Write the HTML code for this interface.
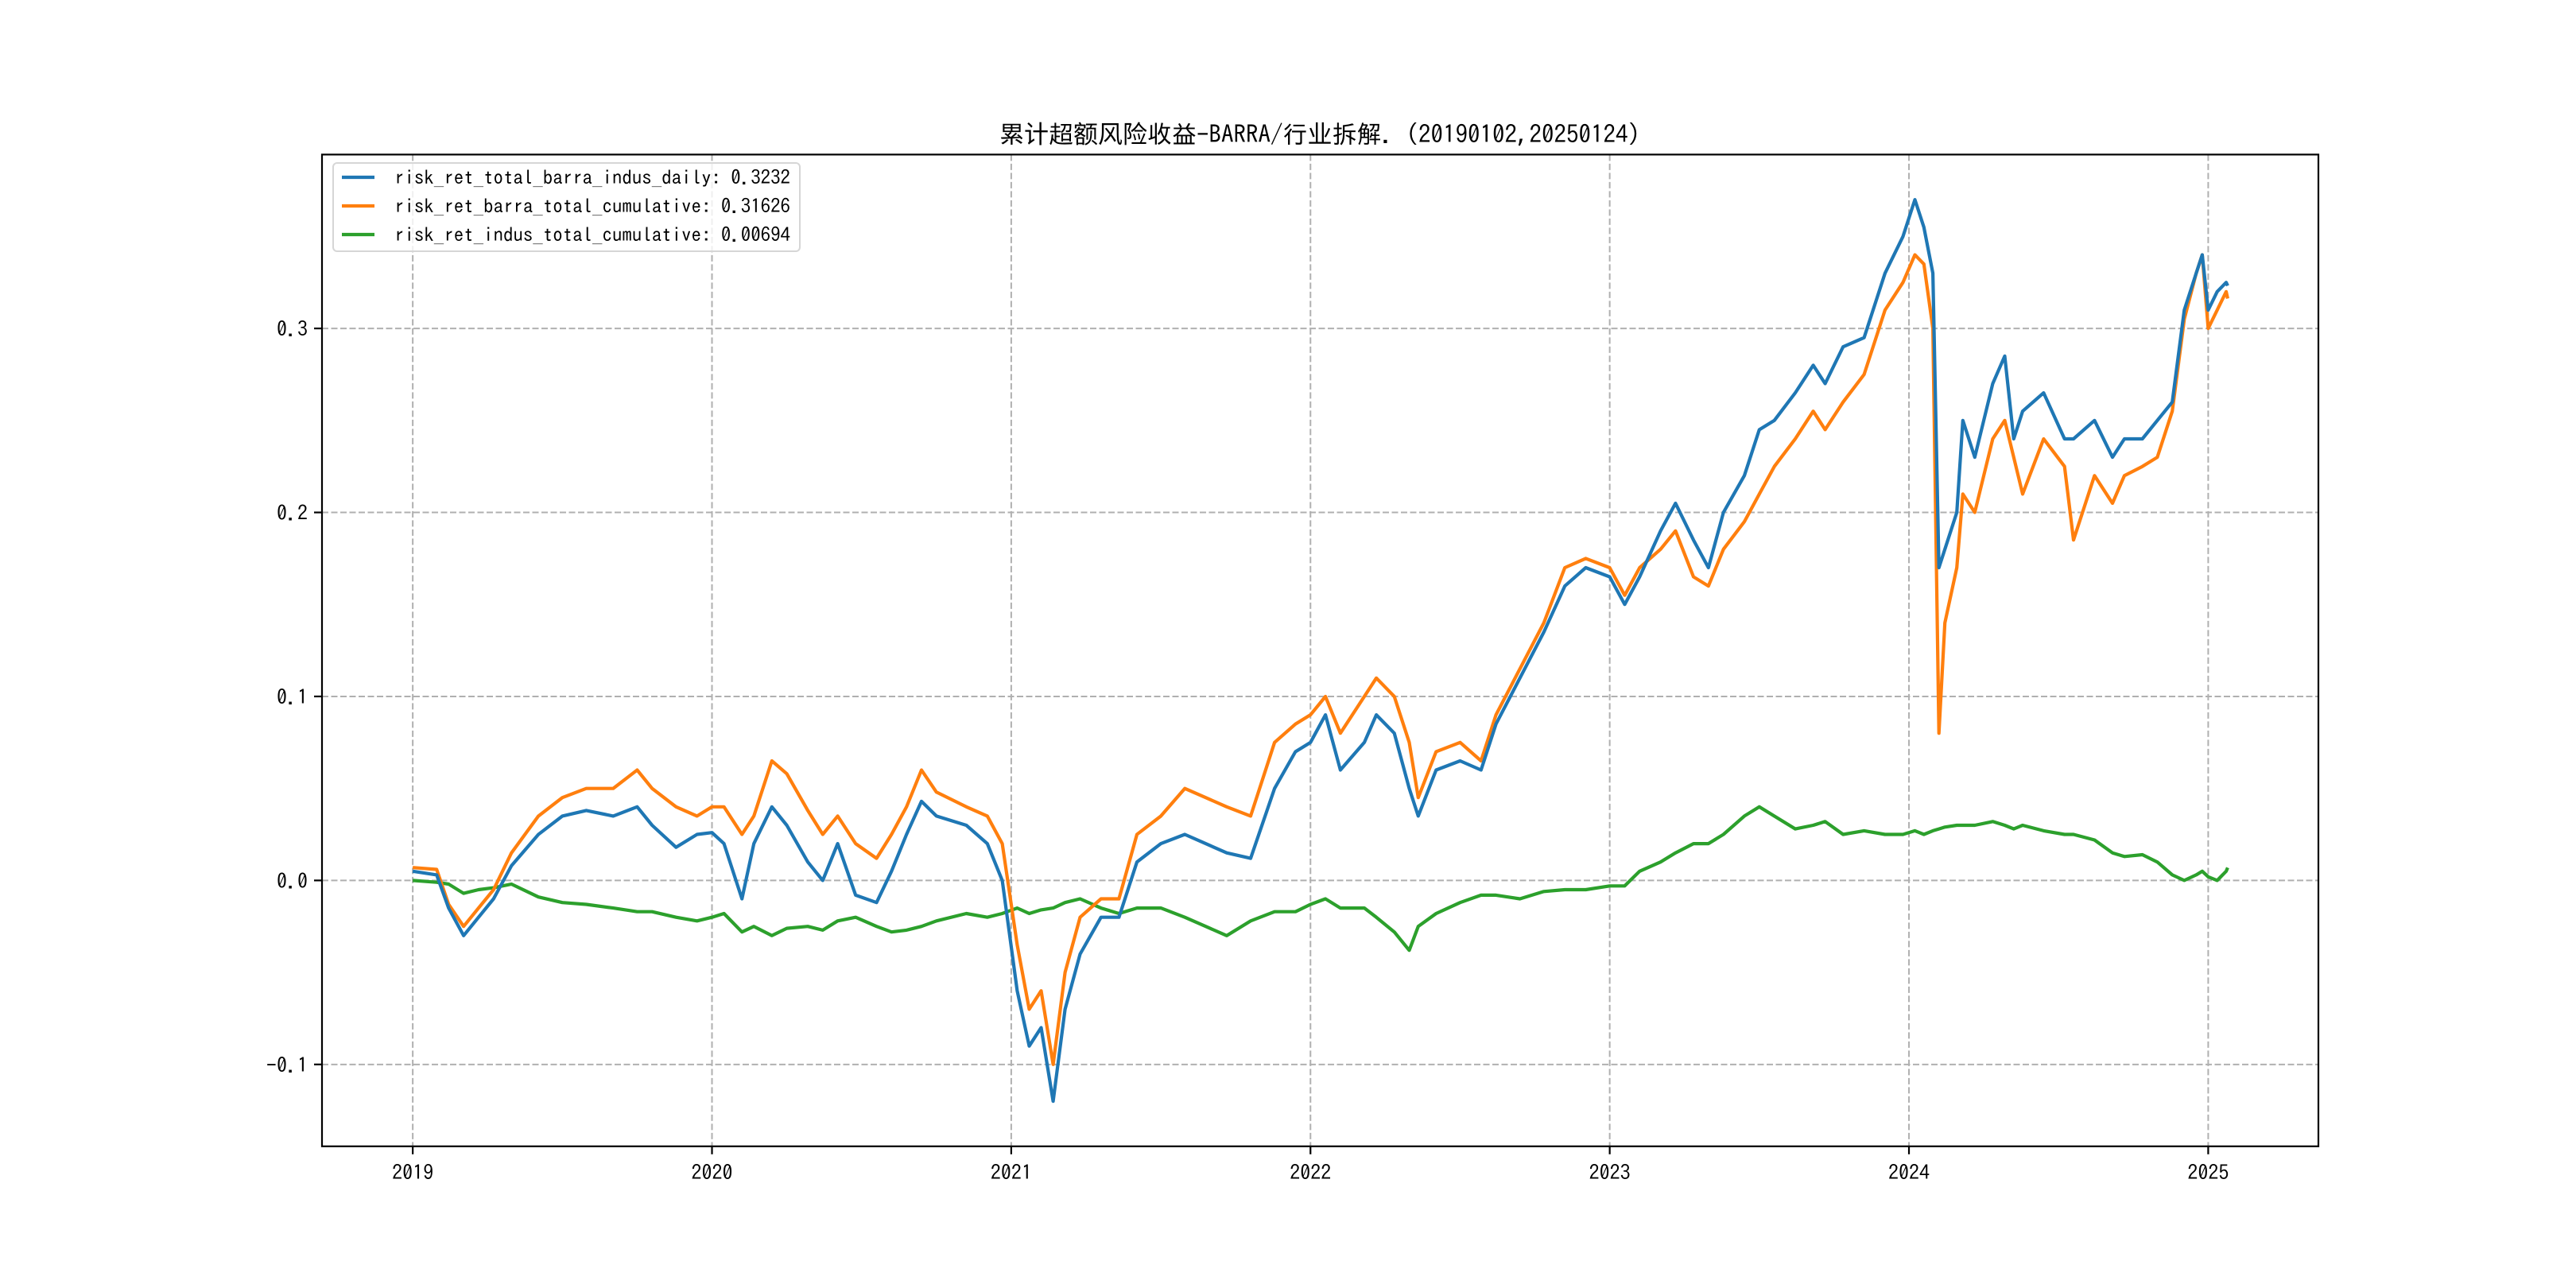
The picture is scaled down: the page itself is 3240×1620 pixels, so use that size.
<!DOCTYPE html>
<html><head><meta charset="utf-8"><style>
html,body{margin:0;padding:0;background:#fff;}
svg{display:block;font-family:"IPAGothic","WenQuanYi Zen Hei",sans-serif;}
</style></head><body>
<svg id="chart" width="3240" height="1620" viewBox="0 0 3240 1620" xmlns="http://www.w3.org/2000/svg">
<rect width="3240" height="1620" fill="#fff"/>
<text x="1660" y="180" font-size="31" text-anchor="middle">累计超额风险收益-BARRA/行业拆解. (20190102,20250124)</text>
<g id="grid"></g><g id="series"></g><g id="axes"></g><g id="legend"></g>
</svg>
<script>
const dates=[2019.00,2019.08,2019.12,2019.17,2019.22,2019.27,2019.33,2019.42,2019.50,2019.58,2019.67,2019.75,2019.80,2019.88,2019.95,2020.00,2020.04,2020.10,2020.14,2020.20,2020.25,2020.32,2020.37,2020.42,2020.48,2020.55,2020.60,2020.65,2020.70,2020.75,2020.85,2020.92,2020.97,2021.02,2021.06,2021.10,2021.14,2021.18,2021.23,2021.30,2021.36,2021.42,2021.50,2021.58,2021.65,2021.72,2021.80,2021.88,2021.95,2022.00,2022.05,2022.10,2022.18,2022.22,2022.28,2022.33,2022.36,2022.42,2022.50,2022.57,2022.62,2022.70,2022.78,2022.85,2022.92,2023.00,2023.05,2023.10,2023.17,2023.22,2023.28,2023.33,2023.38,2023.45,2023.50,2023.55,2023.62,2023.68,2023.72,2023.78,2023.85,2023.92,2023.98,2024.02,2024.05,2024.08,2024.10,2024.12,2024.16,2024.18,2024.22,2024.28,2024.32,2024.35,2024.38,2024.45,2024.52,2024.55,2024.62,2024.68,2024.72,2024.78,2024.83,2024.88,2024.92,2024.96,2024.98,2025.00,2025.03,2025.06,2025.065];
const blueVals=[0.005,0.003,-0.015,-0.03,-0.02,-0.01,0.008,0.025,0.035,0.038,0.035,0.04,0.03,0.018,0.025,0.026,0.02,-0.01,0.02,0.04,0.03,0.01,0.0,0.02,-0.008,-0.012,0.005,0.025,0.043,0.035,0.03,0.02,0.0,-0.06,-0.09,-0.08,-0.12,-0.07,-0.04,-0.02,-0.02,0.01,0.02,0.025,0.02,0.015,0.012,0.05,0.07,0.075,0.09,0.06,0.075,0.09,0.08,0.05,0.035,0.06,0.065,0.06,0.085,0.11,0.135,0.16,0.17,0.165,0.15,0.165,0.19,0.205,0.185,0.17,0.2,0.22,0.245,0.25,0.265,0.28,0.27,0.29,0.295,0.33,0.35,0.37,0.355,0.33,0.17,0.18,0.2,0.25,0.23,0.27,0.285,0.24,0.255,0.265,0.24,0.24,0.25,0.23,0.24,0.24,0.25,0.26,0.31,0.33,0.34,0.31,0.32,0.325,0.3232];
const orangeVals=[0.007,0.006,-0.013,-0.025,-0.015,-0.005,0.015,0.035,0.045,0.05,0.05,0.06,0.05,0.04,0.035,0.04,0.04,0.025,0.035,0.065,0.058,0.038,0.025,0.035,0.02,0.012,0.025,0.04,0.06,0.048,0.04,0.035,0.02,-0.035,-0.07,-0.06,-0.1,-0.05,-0.02,-0.01,-0.01,0.025,0.035,0.05,0.045,0.04,0.035,0.075,0.085,0.09,0.1,0.08,0.1,0.11,0.1,0.075,0.045,0.07,0.075,0.065,0.09,0.115,0.14,0.17,0.175,0.17,0.155,0.17,0.18,0.19,0.165,0.16,0.18,0.195,0.21,0.225,0.24,0.255,0.245,0.26,0.275,0.31,0.325,0.34,0.335,0.3,0.08,0.14,0.17,0.21,0.2,0.24,0.25,0.23,0.21,0.24,0.225,0.185,0.22,0.205,0.22,0.225,0.23,0.255,0.305,0.33,0.34,0.3,0.31,0.32,0.31626];
const greenVals=[0.0,-0.001,-0.002,-0.007,-0.005,-0.004,-0.002,-0.009,-0.012,-0.013,-0.015,-0.017,-0.017,-0.02,-0.022,-0.02,-0.018,-0.028,-0.025,-0.03,-0.026,-0.025,-0.027,-0.022,-0.02,-0.025,-0.028,-0.027,-0.025,-0.022,-0.018,-0.02,-0.018,-0.015,-0.018,-0.016,-0.015,-0.012,-0.01,-0.015,-0.018,-0.015,-0.015,-0.02,-0.025,-0.03,-0.022,-0.017,-0.017,-0.013,-0.01,-0.015,-0.015,-0.02,-0.028,-0.038,-0.025,-0.018,-0.012,-0.008,-0.008,-0.01,-0.006,-0.005,-0.005,-0.003,-0.003,0.005,0.01,0.015,0.02,0.02,0.025,0.035,0.04,0.035,0.028,0.03,0.032,0.025,0.027,0.025,0.025,0.027,0.025,0.027,0.028,0.029,0.03,0.03,0.03,0.032,0.03,0.028,0.03,0.027,0.025,0.025,0.022,0.015,0.013,0.014,0.01,0.003,0.0,0.003,0.005,0.002,0.0,0.005,0.00694];
const yTicks=[-0.1,0.0,0.1,0.2,0.3];
const yTickLabels=["−0.1","0.0","0.1","0.2","0.3"];
const xTicks=[2019,2020,2021,2022,2023,2024,2025];
const xTickLabels=["2019","2020","2021","2022","2023","2024","2025"];
const seriesNames=["risk_ret_total_barra_indus_daily: 0.3232","risk_ret_barra_total_cumulative: 0.31626","risk_ret_indus_total_cumulative: 0.00694"];

const L=405,R=2916,T=194.4,B=1441.8;
const x0=2019.0,x1=2025.065,y0=-0.12,y1=0.37;
const xm=(x1-x0)*0.05,ym=(y1-y0)*0.05;
function xs(v){return L+(v-(x0-xm))/((x1+xm)-(x0-xm))*(R-L);}
function ys(v){return B-(v-(y0-ym))/((y1+ym)-(y0-ym))*(B-T);}
const NS="http://www.w3.org/2000/svg";
function mk(tag,attrs,parent){const e=document.createElementNS(NS,tag);for(const k in attrs)e.setAttribute(k,attrs[k]);parent.appendChild(e);return e;}
const grid=document.getElementById('grid'),ser=document.getElementById('series'),ax=document.getElementById('axes'),lg=document.getElementById('legend');
xTicks.forEach((t,i)=>{
  const g=mk('line',{x1:xs(t),x2:xs(t),y1:T,y2:B,stroke:'#b0b0b0','stroke-width':2,'stroke-dasharray':'8,3.5'},grid);
  
  
  mk('line',{x1:xs(t),x2:xs(t),y1:B,y2:B+10,stroke:'#000','stroke-width':2.2},ax);
  const tx=mk('text',{x:xs(t),y:B+42,'font-size':26,'text-anchor':'middle'},ax);
  tx.textContent=xTickLabels[i];
  
  
});
yTicks.forEach((t,i)=>{
  const g=mk('line',{x1:L,x2:R,y1:ys(t),y2:ys(t),stroke:'#b0b0b0','stroke-width':2,'stroke-dasharray':'8,3.5'},grid);
  
  
  mk('line',{x1:L-10,x2:L,y1:ys(t),y2:ys(t),stroke:'#000','stroke-width':2.2},ax);
  const tx=mk('text',{x:L-18,y:ys(t)+10,'font-size':26,'text-anchor':'end'},ax);
  tx.textContent=yTickLabels[i];
  
  
});
const frame=mk('rect',{x:L,y:T,width:R-L,height:B-T,fill:'none',stroke:'#000','stroke-width':2.2},ax);


const colors=['#1f77b4','#ff7f0e','#2ca02c'];
const allVals=[blueVals,orangeVals,greenVals];
const lineNames=['line-total-barra-indus','line-barra-total','line-indus-total'];
[2,1,0].forEach(k=>{
  const d=dates.map((t,i)=>(i?'L':'M')+xs(t).toFixed(1)+','+ys(allVals[k][i]).toFixed(1)).join('');
  const p=mk('path',{d:d,fill:'none',stroke:colors[k],'stroke-width':4.2,'stroke-linejoin':'round'},ser);
  
  
});
const box=mk('rect',{x:419,y:205,width:587,height:111,rx:5,fill:'#fff','fill-opacity':0.8,stroke:'#d6d6d6','stroke-width':2},lg);


seriesNames.forEach((n,i)=>{
  const y=223+i*36;
  mk('line',{x1:430,x2:471,y1:y,y2:y,stroke:colors[i],'stroke-width':4.2},lg);
  const tx=mk('text',{x:496,y:y+9,'font-size':25,textLength:498,lengthAdjust:'spacingAndGlyphs'},lg);
  tx.textContent=n;
  
  
});
</script>
</body></html>
